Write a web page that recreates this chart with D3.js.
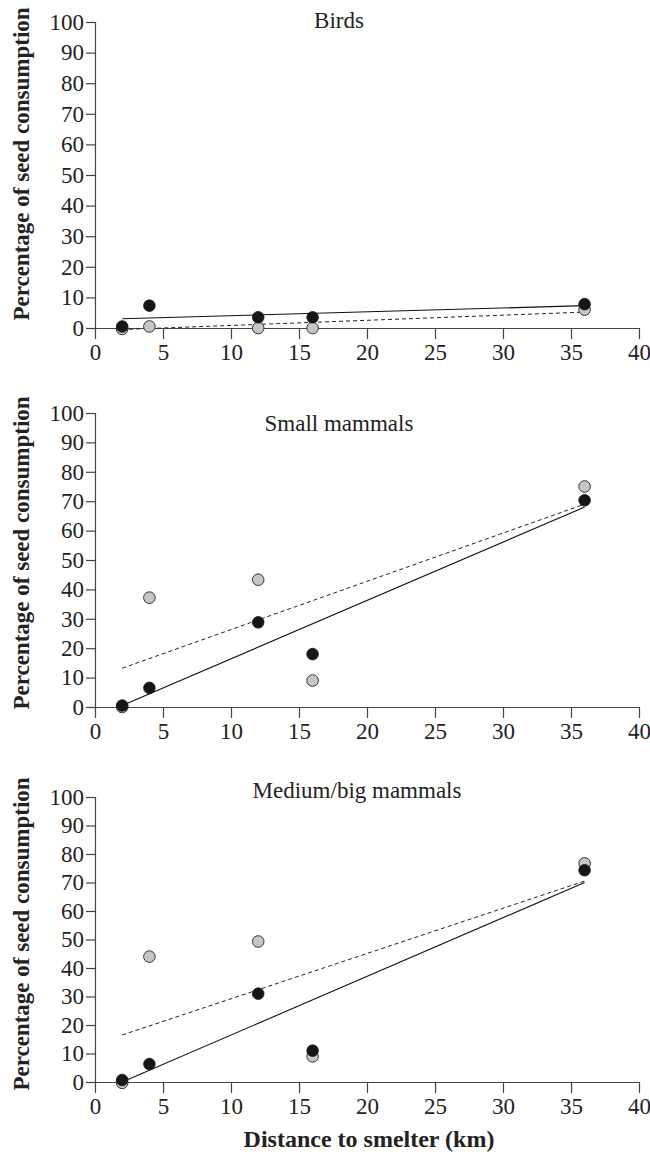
<!DOCTYPE html>
<html>
<head>
<meta charset="utf-8">
<script src="https://cdn.jsdelivr.net/npm/d3@7"></script>
<style>
  html, body { margin: 0; padding: 0; background: #fff; }
  svg { display: block; }
  text { font-family: "Liberation Serif", "Times New Roman", serif; fill: #222; }
</style>
</head>
<body>
<div id="chart"></div>
<script>
// ---- data ----
const distances = [2, 4, 12, 16, 36];
const panelTitles = ["Birds", "Small mammals", "Medium/big mammals"];
const xTicks = [0, 5, 10, 15, 20, 25, 30, 35, 40];
const yTicks = [0, 10, 20, 30, 40, 50, 60, 70, 80, 90, 100];

// filled (black) points per panel
const blackValues = [
  [0.5, 7.3, 3.5, 3.5, 7.8],
  [0.5, 6.5, 28.8, 18, 70.3],
  [0.7, 6.3, 31, 11, 74.3]
];
// grey points per panel
const greyValues = [
  [-0.3, 0.5, 0, 0, 6],
  [0, 37.2, 43.3, 9, 75],
  [-0.3, 44, 49.3, 9, 76.7]
];
// fitted lines: [value at x=2, value at x=36]
const lineRange = [2, 36];
const solidFit = [
  [3, 7.3],
  [0.5, 68],
  [0, 70]
];
const dashedFit = [
  [-0.5, 5.2],
  [13.2, 69],
  [16.5, 70.5]
];

// ---- layout ----
const W = 650, H = 1154;
const xLeft = 95, xRight = 639;
const FS = 23;
const panels = [
  { top: 22, bottom: 328, titleX: 339, titleY: 28, ytitleY: 164 },
  { top: 413, bottom: 707, titleX: 339, titleY: 431, ytitleY: 553 },
  { top: 797, bottom: 1082, titleX: 357, titleY: 798, ytitleY: 934 }
];

const svg = d3.select("#chart").append("svg")
  .attr("width", W).attr("height", H);

const x = d3.scaleLinear().domain([0, 40]).range([xLeft, xRight]);

panels.forEach((p, i) => {
  const y = d3.scaleLinear().domain([0, 100]).range([p.bottom, p.top]);
  const g = svg.append("g");

  // y axis
  const yAxis = d3.axisLeft(y).tickValues(yTicks).tickSize(9).tickPadding(2).tickSizeOuter(0);
  const ya = g.append("g").attr("transform", `translate(${xLeft},0)`).call(yAxis);
  ya.selectAll("path, line").attr("stroke", "#444").attr("stroke-width", 1.2);
  ya.selectAll("text").attr("font-size", FS).attr("font-family", "Liberation Serif").attr("fill", "#222");
  ya.select(".domain").attr("d", `M0.5,${p.top}V${p.bottom}`);

  // x axis
  const xAxis = d3.axisBottom(x).tickValues(xTicks).tickSize(11).tickPadding(5).tickSizeOuter(0);
  const xa = g.append("g").attr("transform", `translate(0,${p.bottom})`).call(xAxis);
  xa.selectAll("path, line").attr("stroke", "#444").attr("stroke-width", 1.2);
  xa.selectAll("text").attr("font-size", FS).attr("font-family", "Liberation Serif").attr("fill", "#222");
  xa.select(".domain").attr("d", `M${xLeft - 9},0.5H${xRight}`);

  // title
  g.append("text").attr("x", p.titleX).attr("y", p.titleY)
    .attr("text-anchor", "middle").attr("font-size", FS).text(panelTitles[i]);

  // y axis title
  g.append("text")
    .attr("transform", `translate(29,${p.ytitleY}) rotate(-90)`)
    .attr("text-anchor", "middle").attr("font-size", 23).attr("font-weight", "bold")
    .text("Percentage of seed consumption");

  // fitted lines
  const lineGen = d3.line().x(d => x(d[0])).y(d => y(d[1]));
  g.append("path")
    .attr("d", lineGen([[lineRange[0], dashedFit[i][0]], [lineRange[1], dashedFit[i][1]]]))
    .attr("fill", "none").attr("stroke", "#222").attr("stroke-width", 1)
    .attr("stroke-dasharray", "4,3");
  g.append("path")
    .attr("d", lineGen([[lineRange[0], solidFit[i][0]], [lineRange[1], solidFit[i][1]]]))
    .attr("fill", "none").attr("stroke", "#111").attr("stroke-width", 1.1);

  // points
  g.selectAll(".grey").data(distances.map((d, k) => [d, greyValues[i][k]]))
    .enter().append("circle")
    .attr("cx", d => x(d[0])).attr("cy", d => y(d[1])).attr("r", 5.8)
    .attr("fill", "#c6c6c6").attr("stroke", "#333").attr("stroke-width", 1);
  g.selectAll(".black").data(distances.map((d, k) => [d, blackValues[i][k]]))
    .enter().append("circle")
    .attr("cx", d => x(d[0])).attr("cy", d => y(d[1])).attr("r", 5.8)
    .attr("fill", "#161616").attr("stroke", "#111").attr("stroke-width", 0.8);
});

// x axis title
svg.append("text").attr("x", 369).attr("y", 1147)
  .attr("text-anchor", "middle").attr("font-size", 24).attr("font-weight", "bold")
  .text("Distance to smelter (km)");
</script>
</body>
</html>
